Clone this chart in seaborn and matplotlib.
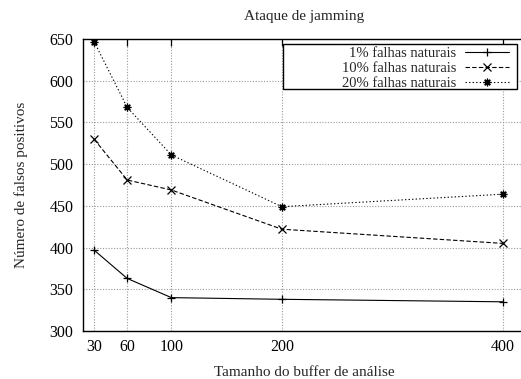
import matplotlib
matplotlib.use("Agg")
import matplotlib.pyplot as plt
import seaborn as sns
import pandas as pd
from matplotlib.lines import Line2D
from matplotlib.patches import Rectangle

buffer_sizes = [30, 60, 100, 200, 400]
falhas_1 = [397, 363, 340, 338, 335]
falhas_10 = [530, 481, 469, 422, 405]
falhas_20 = [647, 568, 511, 449, 464]
series_labels = ["1% falhas naturais", "10% falhas naturais", "20% falhas naturais"]
y_ticks = [300, 350, 400, 450, 500, 550, 600, 650]

sns.set_theme(style="white")
plt.rcParams['font.family'] = ['Liberation Serif', 'DejaVu Serif']
plt.rcParams['font.size'] = 11

rows = []
for lab, vals in zip(series_labels, [falhas_1, falhas_10, falhas_20]):
    for x, y in zip(buffer_sizes, vals):
        rows.append({"buffer": x, "fp": y, "serie": lab})
df = pd.DataFrame(rows)

W, H = 521, 379
fig = plt.figure(figsize=(W/100, H/100), dpi=100)
ax = fig.add_axes([83/W, 1-331/H, (525-83)/W, (331-39)/H])

markers = {series_labels[0]: "+", series_labels[1]: "x", series_labels[2]: (8, 2, 0)}
dashes = {series_labels[0]: "", series_labels[1]: (4, 2), series_labels[2]: (1.2, 2)}
sns.lineplot(data=df, x="buffer", y="fp", style="serie", markers=markers, dashes=dashes,
             color="black", linewidth=0.8, markersize=5.5, markeredgewidth=0.9,
             markeredgecolor="black", ax=ax, legend=False)

ax.set_xlim(20, 420)
ax.set_ylim(300, 650)
ax.set_xticks(buffer_sizes)
ax.set_yticks(y_ticks)
ax.grid(True, color="#999999", linestyle=(0, (1, 1.5)), linewidth=0.8)
ax.tick_params(direction="in", length=5, top=True, right=False, labelsize=11.5,
               colors="black", width=0.9)
ax.tick_params(axis="x", pad=6)
ax.tick_params(axis="y", pad=7)
for s in ["left", "bottom", "top"]:
    ax.spines[s].set_color("black")
    ax.spines[s].set_linewidth(1.0)
ax.spines["right"].set_visible(False)

ax.set_xlabel("Tamanho do buffer de análise", fontsize=11, labelpad=8)
ax.set_ylabel("Número de falsos positivos", fontsize=11, labelpad=15)
ax.set_title("Ataque de jamming", fontsize=11, pad=14)

handles = []
for lab in series_labels:
    handles.append(Line2D([], [], color="black", linewidth=0.8,
                          linestyle=(0, dashes[lab]) if dashes[lab] else "-",
                          marker=markers[lab], markersize=5.5, markeredgewidth=0.9))
ax.add_patch(Rectangle((283/W, 1-89/H), (517-283)/W, (89-44)/H, transform=fig.transFigure,
                       facecolor="white", edgecolor="black", linewidth=1.0, zorder=4,
                       clip_on=False))
leg = ax.legend(handles=handles, labels=series_labels, loc="upper right",
                bbox_to_anchor=(509/W, 1-47/H), bbox_transform=fig.transFigure,
                borderaxespad=0, markerfirst=False, handlelength=3.0, handletextpad=0.6,
                labelspacing=0.12, frameon=False, fontsize=10.5, borderpad=0)
leg.set_zorder(6)

fig.savefig("out.png", dpi=100)
